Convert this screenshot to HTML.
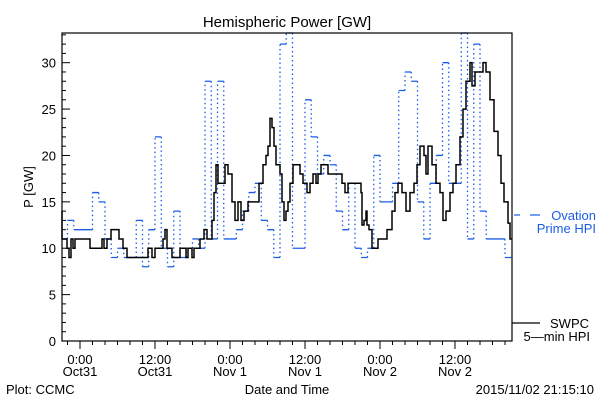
<!DOCTYPE html>
<html><head><meta charset="utf-8"><style>
body{margin:0;background:#fff}
svg text{font-family:"Liberation Sans",sans-serif;font-size:13px}
</style></head><body>
<svg id="chart" width="600" height="400" viewBox="0 0 600 400" xmlns="http://www.w3.org/2000/svg">
<rect width="600" height="400" fill="#fff"/>
<text x="287" y="27" text-anchor="middle" style="font-size:15px">Hemispheric Power [GW]</text>
<g id="grid"></g>
<g id="series"></g>
<rect x="62" y="33" width="450" height="308" fill="none" stroke="#000" stroke-width="1.2"/>
<g id="axes"></g>
<text transform="translate(33,187) rotate(-90)" text-anchor="middle">P [GW]</text>
<text x="287" y="394" text-anchor="middle">Date and Time</text>
<text x="6" y="394">Plot: CCMC</text>
<text x="594" y="394" text-anchor="end">2015/11/02 21:15:10</text>
<g>
<line x1="514" y1="215" x2="520" y2="215" stroke="#1a5ee8" stroke-width="1.2"/>
<line x1="530" y1="215" x2="540" y2="215" stroke="#1a5ee8" stroke-width="1.2"/>
<text x="596" y="220" text-anchor="end" fill="#1a5ee8">Ovation</text>
<text x="596" y="233" text-anchor="end" fill="#1a5ee8">Prime HPI</text>
</g>
<g>
<line x1="512" y1="323" x2="540" y2="323" stroke="#000" stroke-width="1.2"/>
<text x="589" y="328" text-anchor="end">SWPC</text>
<text x="590" y="341" text-anchor="end">5—min HPI</text>
</g>
</svg>
<script>
const ovationHours=[-3,-2,-1,0,1,2,3,4,5,6,7,8,9,10,11,12,13,14,15,16,17,18,19,20,21,22,23,24,25,26,27,28,29,30,31,32,33,34,35,36,37,38,39,40,41,42,43,44,45,46,47,48,49,50,51,52,53,54,55,56,57,58,59,60,61,62,63,64,65,66,67,68];
const ovationValues=[11,13,12,12,12,16,15,11,9,10,9,9,13,8,12,22,10,8,14,9,10,11,10,28,11,28,11,11,12,14,16,17,13,12,9,32,34,10,10,26,22,18,20,19,14,12,17,10,9,10,20,15,15,17,27,29,28,15,11,17,20,30,17,17,34,11,32,14,11,11,11,9];
const swpcHours=[-3.04,-2.88,-2.08,-1.76,-1.44,-1.12,-0.8,1.6,3.52,3.84,4.32,4.96,6.24,6.88,7.52,10.88,11.52,12,13.28,13.6,13.92,14.72,16,16.96,17.28,17.92,18.24,19.2,19.84,20.32,21.12,21.44,21.76,22.08,22.72,23.2,23.68,24.32,24.8,25.28,25.76,26.24,26.88,28.64,29.28,29.76,30.08,30.4,30.72,31.04,31.36,32,32.32,32.64,32.96,33.28,33.6,34.08,35.2,35.68,36.32,36.8,37.28,37.76,38.08,38.56,39.68,41.92,42.4,42.88,44.96,45.12,45.44,45.76,45.92,46.24,46.72,47.68,49.12,49.92,50.4,50.88,51.52,52.16,52.8,53.44,53.92,54.4,55.04,55.36,55.68,56.32,56.96,57.6,58.08,58.56,59.2,59.68,60.16,60.8,61.28,61.76,62.4,62.72,63.2,64.48,64.96,65.6,66.24,66.88,67.36,67.84,68.48,68.8,69.12];
const swpcValues=[14,11,10,9,11,10,11,10,11,10,11,12,11,10,9,10,9,10,11,12,10,9,10,9,10,9,10,11,12,11,13,16,19,17,17,19,18,15,13,15,13,14,15,17,19,20,21,24,23,21,19,18,15,13,14,15,17,19,18,17,16,17,18,17,18,19,18,17,16,17,16,12.5,13,14,12.5,12,10,11,12,14,16,17,16,14,16,17,19,21,20,18,21,19,17,16,13,14,16,17,19,22,25,28,30,27.5,29,30,29,26,22.6,20,17,15,12.7,11,11];
const yTickLabels=["0","5","10","15","20","25","30"];
const xTickHours=[0,12,24,36,48,60];
const xTickLabels1=["0:00","12:00","0:00","12:00","0:00","12:00"];
const xTickLabels2=["Oct31","Oct31","Nov 1","Nov 1","Nov 2","Nov 2"];

const L=62,R=512,T=33,B=341,H0=-2.88,H1=69.12,V0=0,V1=33.2;
const X=h=>L+(h-H0)/(H1-H0)*(R-L);
const Y=v=>B-(v-V0)/(V1-V0)*(B-T);
const cy=v=>Math.max(T,Math.min(B,Y(v)));
const NS="http://www.w3.org/2000/svg";
function mk(tag,attrs,parent){const e=document.createElementNS(NS,tag);for(const k in attrs)e.setAttribute(k,attrs[k]);parent.appendChild(e);return e;}
const axes=document.getElementById('axes'),series=document.getElementById('series');
// y ticks
for(let v=0;v<=33;v++){const major=v%5===0;const t=mk('line',{x1:L,x2:L+(major?8:4),y1:Y(v),y2:Y(v),stroke:'#000'},axes);

}
yTickLabels.forEach(s=>{const t=mk('text',{x:L-6,y:Y(+s)+5,'text-anchor':'end'},axes);t.textContent=s;

});
// x ticks
for(let h=-2;h<=68;h+=2){const major=h%12===0;const t=mk('line',{x1:X(h),x2:X(h),y1:B,y2:B+(major?8:4),stroke:'#000'},axes);

}
xTickHours.forEach((h,i)=>{const t=mk('text',{x:X(h),y:B+23,'text-anchor':'middle'},axes);t.textContent=xTickLabels1[i];


const t2=mk('text',{x:X(h),y:B+35,'text-anchor':'middle'},axes);t2.textContent=xTickLabels2[i];

});
// ovation: solid horizontals, dotted verticals
let dh='',dv='';
ovationHours.forEach((h,i)=>{const x0=Math.max(L,X(h)),x1=Math.min(R,X(h+1)),y=cy(ovationValues[i]);
dh+=`M${x0},${y}H${x1}`;
if(i>0){dv+=`M${x0},${cy(ovationValues[i-1])}V${y}`;}});
const oh=mk('path',{d:dh,stroke:'#1a5ee8',fill:'none','stroke-width':1.3},series);


const ov=mk('path',{d:dv,stroke:'#1a5ee8',fill:'none','stroke-width':1.3,'stroke-dasharray':'1.5 3'},series);


// swpc step line
let ds='';
swpcHours.forEach((h,i)=>{const x=Math.max(L,X(h)),y=cy(swpcValues[i]);
if(i===0)ds=`M${x},${y}`;else ds+=`H${x}V${y}`;});
ds+=`H${R}`;
const sp=mk('path',{d:ds,stroke:'#000',fill:'none','stroke-width':1.5},series);


</script>
</body></html>
